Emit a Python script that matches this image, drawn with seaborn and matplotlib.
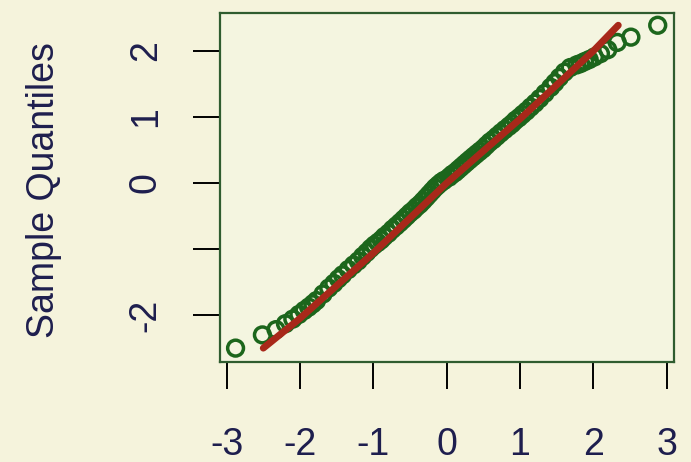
import numpy as np
import pandas as pd
import matplotlib
matplotlib.use('Agg')
import matplotlib.pyplot as plt
import seaborn as sns

# ================= DATA =================

theoretical = [
    -2.878, -2.512, -2.326, -2.197, -2.097, -2.014, -1.943, -1.881, -1.825, -1.774,
    -1.685, -1.607, -1.538, -1.476, -1.419, -1.341, -1.270, -1.206, -1.146, -1.089,
    -1.036, -0.986, -0.938, -0.893, -0.849, -0.793, -0.739, -0.687, -0.637, -0.589,
    -0.542, -0.496, -0.451, -0.407, -0.364, -0.321, -0.279, -0.238, -0.197, -0.156,
    -0.116, -0.075, -0.035,
    0.035, 0.075, 0.116, 0.156, 0.197, 0.238, 0.279, 0.321, 0.364, 0.407,
    0.451, 0.496, 0.542, 0.589, 0.637, 0.687, 0.739, 0.793, 0.849, 0.893,
    0.938, 0.986, 1.036, 1.089, 1.146, 1.206, 1.270, 1.341, 1.419, 1.476,
    1.538, 1.607, 1.685, 1.774, 1.825, 1.881, 1.943, 2.014, 2.097, 2.197,
    2.326, 2.512, 2.878,
]

sample = [
    -2.50, -2.30, -2.22, -2.13, -2.06, -1.99, -1.93, -1.88, -1.83, -1.78,
    -1.68, -1.59, -1.52, -1.45, -1.39, -1.31, -1.24, -1.18, -1.11, -1.05,
    -0.99, -0.94, -0.90, -0.86, -0.81, -0.76, -0.70, -0.65, -0.60, -0.55,
    -0.50, -0.45, -0.41, -0.36, -0.32, -0.27, -0.22, -0.17, -0.12, -0.07,
    -0.03, 0.01, 0.04,
    0.09, 0.13, 0.16, 0.20, 0.24, 0.28, 0.32, 0.36, 0.40, 0.44,
    0.48, 0.52, 0.57, 0.62, 0.66, 0.71, 0.76, 0.81, 0.86, 0.90,
    0.95, 0.99, 1.04, 1.09, 1.15, 1.21, 1.28, 1.36, 1.45, 1.52,
    1.60, 1.68, 1.75, 1.79, 1.81, 1.84, 1.87, 1.91, 1.96, 2.02,
    2.13, 2.21, 2.39,
]

line_x = [-2.50, -2.00, -1.00, 0.00, 1.00, 2.00, 2.34]
line_y = [-2.50, -2.05, -1.06, 0.00, 0.97, 2.00, 2.39]

x_ticks = [-3, -2, -1, 0, 1, 2, 3]
x_labels = ['-3', '-2', '-1', '0', '1', '2', '3']
y_ticks = [-2, -1, 0, 1, 2]
y_labels = ['-2', '', '0', '1', '2']

BG = '#F5F3DC'
PANEL = '#F4F5E0'
BOX = '#2F5C2F'
TEXT = '#1E1E4E'
GREEN = '#1C661C'
RED = '#A8281A'

df = pd.DataFrame({'x': theoretical, 'y': sample})
df_line = pd.DataFrame({'x': line_x, 'y': line_y})

# ================= PLOT =================

sns.set_style('white')
plt.rcParams['font.family'] = ['Liberation Sans', 'DejaVu Sans']
plt.rcParams['axes.unicode_minus'] = False

fig = plt.figure(figsize=(6.91, 4.62), dpi=100, facecolor=BG)
ax = fig.add_axes([0.3184, 0.2165, 0.6570, 0.7554])
ax.set_facecolor(PANEL)

sns.scatterplot(
    data=df, x='x', y='y', ax=ax,
    marker='o', s=130, facecolors='none',
    edgecolor=GREEN, linewidth=2.5, zorder=2
)

sns.lineplot(
    data=df_line, x='x', y='y', ax=ax,
    color=RED, lw=5, sort=False, zorder=3
)

ax.set_xlim(-3.09, 3.10)
ax.set_ylim(-2.71, 2.576)

ax.set_xticks(x_ticks)
ax.set_xticklabels(x_labels)
ax.set_yticks(y_ticks)
ax.set_yticklabels(y_labels, rotation=90, va='center')

ax.tick_params(axis='both', direction='out', length=19.5, width=1.4,
               color='black', labelsize=27, labelcolor=TEXT,
               bottom=True, left=True)
ax.tick_params(axis='x', pad=27)
ax.tick_params(axis='y', pad=21)

for s in ax.spines.values():
    s.set_color(BOX)
    s.set_linewidth(1.6)

ax.set_xlabel('')
ax.set_ylabel('')

fig.text(44 / 691, 1 - 190 / 462, 'Sample Quantiles', rotation=90,
         ha='center', va='center', fontsize=27, color=TEXT)

fig.savefig('out.png', dpi=100, facecolor=BG)
plt.close(fig)
